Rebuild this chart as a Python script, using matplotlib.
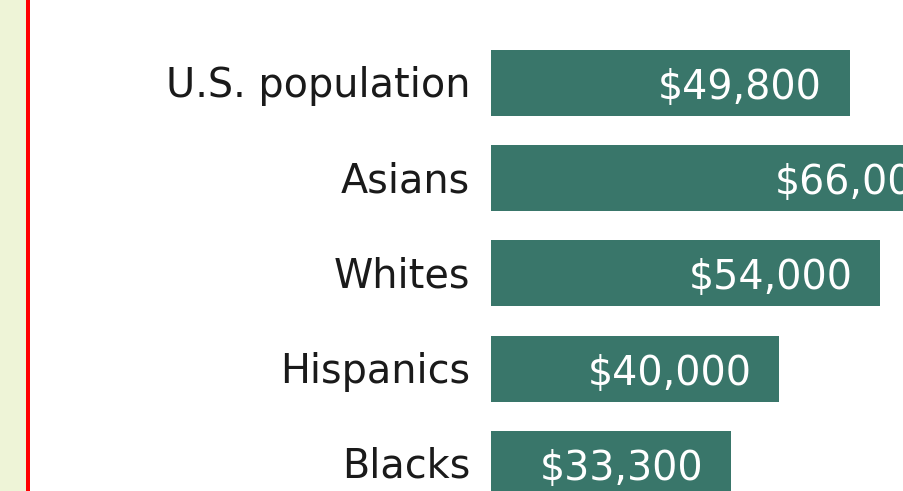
import matplotlib.pyplot as plt
from matplotlib.patches import Rectangle

# =============================================================================
# Data
# =============================================================================
groups = ['U.S. population', 'Asians', 'Whites', 'Hispanics', 'Blacks']
income = [49800, 66000, 54000, 40000, 33300]
income_labels = ['$49,800', '$66,000', '$54,000', '$40,000', '$33,300']

bar_color = '#39766a'

# =============================================================================
# Figure
# =============================================================================
W, H = 904, 491
fig = plt.figure(figsize=(W / 100, H / 100), dpi=100)
fig.patch.set_facecolor('white')

# Left strip and red rule
fig.patches.append(Rectangle((0, 0), 26 / W, 1, transform=fig.transFigure,
                             facecolor='#eef4d7', edgecolor='none'))
fig.patches.append(Rectangle((26 / W, 0), 4 / W, 1, transform=fig.transFigure,
                             facecolor='#ff0000', edgecolor='none'))

# Axes starts where the bars start and runs off the right edge
ax = fig.add_axes([491 / W, 0, 1 - 491 / W + 0.01, 1])
ax.set_facecolor('none')
px_per_dollar = (850 - 491) / 49800
ax.set_xlim(0, (W - 491 + 9) / px_per_dollar)
step = 95.25
ax.set_ylim((H - 83) / step, -83 / step)

ypos = list(range(len(groups)))
ax.barh(ypos, income, height=66 / step, color=bar_color, edgecolor='none')

for y, v, lab, name in zip(ypos, income, income_labels, groups):
    # Value inside the bar
    ax.annotate(lab, xy=(v, y), xytext=(-28, -16), textcoords='offset pixels',
                ha='right', va='baseline', color='white', fontsize=28.5,
                family='DejaVu Sans', annotation_clip=False)
    # Category label to the left
    ax.annotate(name, xy=(0, y), xytext=(-21, -14), textcoords='offset pixels',
                ha='right', va='baseline', color='#1a1a1a', fontsize=28.6,
                family='DejaVu Sans', annotation_clip=False)

# Box off
for s in ax.spines.values():
    s.set_visible(False)
ax.set_xticks([])
ax.set_yticks([])

fig.savefig('out.png', dpi=100)
